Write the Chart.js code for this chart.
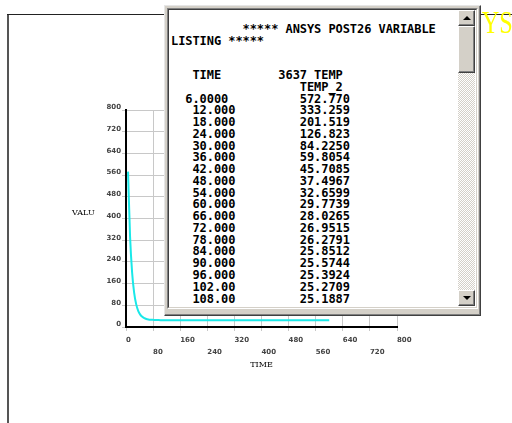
<!DOCTYPE html>
<html>
<head>
<meta charset="utf-8">
<script src="https://cdn.jsdelivr.net/npm/chart.js@4.4.1/dist/chart.umd.min.js"></script>
<style>
  html, body { margin: 0; padding: 0; background: #fff; }
  #wrap { position: relative; width: 512px; height: 423px; overflow: hidden; background: #fff; }
  #chart { position: absolute; left: 0; top: 0; }
  .abs { position: absolute; box-sizing: border-box; }
  #frameL { left: 7px; top: 14px; width: 2px; height: 409px; background: #555; }
  #frameT { left: 7px; top: 14px; width: 505px; height: 1px; background: #222; }
  #logo { right: -1px; top: 5px; font: 31px 'Liberation Serif', serif; color: #ffff00;
          white-space: nowrap; transform: scaleX(0.78); transform-origin: right center; }
  #valu { left: 72px; top: 208px; font: 8px 'DejaVu Serif', serif; color: #000; }
  /* listing window */
  #win { left: 164px; top: 5px; width: 317px; height: 311px; background: #d4d0c8;
         border-top: 1px solid #e6e6e6; border-left: 1px solid #e6e6e6;
         border-right: 1px solid #404040; border-bottom: 1px solid #404040; }
  #win2 { left: 165px; top: 6px; width: 315px; height: 309px;
          border-right: 1px solid #808080; border-bottom: 1px solid #808080; }
  #pane { left: 167px; top: 8px; width: 311px; height: 301px; background: #fff;
          border-top: 1px solid #808080; border-left: 1px solid #808080;
          border-right: 1px solid #fff; border-bottom: 1px solid #fff; }
  #pane2 { left: 168px; top: 9px; width: 309px; height: 299px;
           border-top: 1px solid #404040; border-left: 1px solid #404040;
           border-right: 1px solid #d4d0c8; border-bottom: 1px solid #d4d0c8; }
  #track { left: 458px; top: 10px; width: 17px; height: 296px;
           background-color: #fff;
           background-image: repeating-conic-gradient(#d4d0c8 0 25%, #fff 0 50%);
           background-size: 2px 2px; }
  .btn { width: 17px; background: #d4d0c8;
         border-top: 1px solid #fff; border-left: 1px solid #fff;
         border-right: 1px solid #404040; border-bottom: 1px solid #404040;
         box-shadow: inset -1px -1px 0 #808080; }
  #up { left: 458px; top: 10px; height: 16px; }
  #thumb { left: 458px; top: 26px; height: 47px; }
  #down { left: 458px; top: 290px; height: 16px; }
  .arrow { position: absolute; left: 4px; width: 0; height: 0;
           border-left: 4px solid transparent; border-right: 4px solid transparent; }
  #up .arrow { top: 5px; border-bottom: 4px solid #000; }
  #down .arrow { top: 5px; border-top: 4px solid #000; }
  pre.lst { position: absolute; margin: 0; left: 171px; color: #000;
            font: bold 12px 'DejaVu Sans Mono', monospace; letter-spacing: -0.07px; }
  #head { top: 23px; line-height: 12.4px; }
  #rows { top: 70px; line-height: 11.76px; }
</style>
</head>
<body>
<div id="wrap">
  <canvas id="chart" width="512" height="423"></canvas>
  <div id="frameL" class="abs"></div>
  <div id="frameT" class="abs"></div>
  <div id="logo" class="abs">ANSYS</div>
  <div id="valu" class="abs">VALU</div>
  <div id="win" class="abs"></div>
  <div id="win2" class="abs"></div>
  <div id="pane" class="abs"></div>
  <div id="pane2" class="abs"></div>
  <div id="track" class="abs"></div>
  <div id="up" class="abs btn"><div class="arrow"></div></div>
  <div id="thumb" class="abs btn"></div>
  <div id="down" class="abs btn"><div class="arrow"></div></div>
  <pre id="head" class="lst"></pre>
  <pre id="rows" class="lst"></pre>
</div>
<script>
// POST26 listing: time and nodal temperature (node 3637)
const listTimes = ['6.0000', '12.000', '18.000', '24.000', '30.000', '36.000',
                   '42.000', '48.000', '54.000', '60.000', '66.000', '72.000',
                   '78.000', '84.000', '90.000', '96.000', '102.00', '108.00'];
const listTemps = ['572.770', '333.259', '201.519', '126.823', '84.2250', '59.8054',
                   '45.7085', '37.4967', '32.6599', '29.7739', '28.0265', '26.9515',
                   '26.2791', '25.8512', '25.5744', '25.3924', '25.2709', '25.1887'];
// later part of the run, levelling off near ambient
const tailTimes = [120, 150, 180, 240, 300, 360, 420, 480, 540, 600];
const tailTemps = [25.09, 25.03, 25.01, 25.0, 25.0, 25.0, 25.0, 25.0, 25.0, 25.0];

const xTickValues = [0, 80, 160, 240, 320, 400, 480, 560, 640, 720, 800];
const yTickValues = [0, 80, 160, 240, 320, 400, 480, 560, 640, 720, 800];

// listing text
const pad = (s, n) => s + ' '.repeat(Math.max(0, n - s.length));
document.getElementById('head').textContent =
  '          ***** ANSYS POST26 VARIABLE\nLISTING *****';
const rowLines = [pad('   TIME', 15) + '3637 TEMP', pad('', 18) + 'TEMP_2'];
listTimes.forEach((t, i) => {
  const lead = t.indexOf('.') === 1 ? '  ' : '   ';
  rowLines.push(pad(lead + t, 18) + listTemps[i]);
});
document.getElementById('rows').textContent = rowLines.join('\n');

// curve points
const points = listTimes.map((t, i) => ({ x: parseFloat(t), y: parseFloat(listTemps[i]) }))
  .concat(tailTimes.map((t, i) => ({ x: t, y: tailTemps[i] })));

const tickFont = { family: 'DejaVu Sans', size: 7, weight: 'bold' };

new Chart(document.getElementById('chart'), {
  type: 'line',
  data: {
    datasets: [{
      data: points,
      borderColor: '#1ae8e8',
      borderWidth: 2,
      pointRadius: 0,
      fill: false,
      cubicInterpolationMode: 'monotone'
    }]
  },
  options: {
    responsive: false,
    animation: false,
    events: [],
    layout: { padding: { left: 0, top: 110, right: 115, bottom: 53 } },
    plugins: { legend: { display: false }, tooltip: { enabled: false } },
    scales: {
      x: {
        type: 'linear', min: 0, max: 800,
        afterBuildTicks: s => { s.ticks = xTickValues.map(v => ({ value: v })); },
        afterFit: s => { s.height = 43; },
        grid: { color: '#c8c8c8', lineWidth: 1, tickLength: 4 },
        border: { color: '#000', width: 2 },
        ticks: {
          align: 'start', padding: 3, maxRotation: 0, autoSkip: false,
          color: '#444', font: Object.assign({ lineHeight: '12px' }, tickFont),
          callback: (v, i) => (i % 2 === 0 ? [String(v), ''] : ['', String(v)])
        },
        title: { display: true, text: 'TIME', color: '#000', padding: 0,
                 font: { family: 'DejaVu Serif', size: 8 } }
      },
      y: {
        type: 'linear', min: 0, max: 800,
        afterBuildTicks: s => { s.ticks = yTickValues.map(v => ({ value: v })); },
        afterFit: s => { s.width = 126; },
        grid: { color: '#c8c8c8', lineWidth: 1, tickLength: 4 },
        border: { color: '#000', width: 2 },
        ticks: {
          padding: 1, autoSkip: false, color: '#444',
          font: Object.assign({ lineHeight: '5px' }, tickFont),
          callback: v => [String(v), '']
        }
      }
    }
  }
});
</script>
</body>
</html>
